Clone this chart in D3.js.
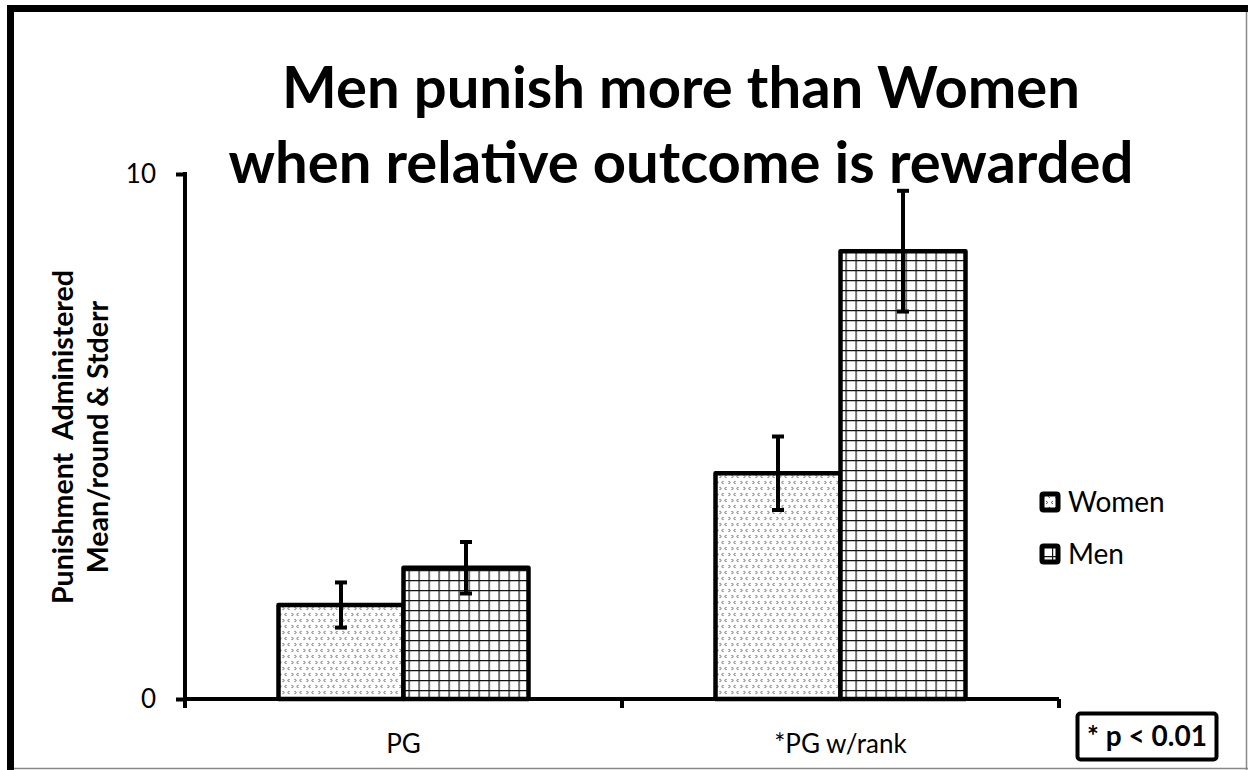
<!DOCTYPE html>
<html>
<head>
<meta charset="utf-8">
<script src="https://cdn.jsdelivr.net/npm/d3@7"></script>
<style>
  body { margin: 0; background: #fff; }
  svg { display: block; font-family: Lato, "Open Sans", sans-serif; }
</style>
</head>
<body>
<svg id="chart" width="1248" height="770"></svg>
<script>
// data
var categories = ['PG', '*PG w/rank'];
var seriesNames = ['Women', 'Men'];
var womenMean = [1.79, 4.30];
var womenErr = [0.43, 0.70];
var menMean = [2.50, 8.53];
var menErr = [0.49, 1.15];
var yTicks = [0, 10];
var titleLines = ['Men punish more than Women', 'when relative outcome is rewarded'];
var yLabelLines = ['Punishment  Administered', 'Mean/round & Stderr'];

var svg = d3.select('#chart');

// patterns
var defs = svg.append('defs');
var dots = defs.append('pattern')
    .attr('id', 'pat-women')
    .attr('patternUnits', 'userSpaceOnUse')
    .attr('width', 12).attr('height', 12);
dots.append('rect').attr('width', 12).attr('height', 12).attr('fill', '#fff');
// little chevrons like the excel dotted fill
[[1, 1, 1], [8, 1, -1], [4, 7, 1], [11, 7, -1]].forEach(function(p) {
    dots.append('path')
        .attr('d', 'M' + p[0] + ',' + p[1] + ' l' + (1.8 * p[2]) + ',1.5 l' + (-1.8 * p[2]) + ',1.5')
        .attr('fill', 'none')
        .attr('stroke', '#555')
        .attr('stroke-width', 1);
});

var grid = defs.append('pattern')
    .attr('id', 'pat-men')
    .attr('patternUnits', 'userSpaceOnUse')
    .attr('width', 10).attr('height', 10);
grid.append('rect').attr('width', 10).attr('height', 10).attr('fill', '#fff');
grid.append('path')
    .attr('d', 'M0,0.5 H10 M0.5,0 V10')
    .attr('stroke', '#111')
    .attr('stroke-width', 1.4);

var fills = ['url(#pat-women)', 'url(#pat-men)'];

// frame
svg.append('rect').attr('x', 7).attr('y', 5).attr('width', 7).attr('height', 765).attr('fill', '#000');
svg.append('rect').attr('x', 7).attr('y', 5).attr('width', 1241).attr('height', 7).attr('fill', '#000');
svg.append('line').attr('x1', 1246.5).attr('x2', 1246.5).attr('y1', 12).attr('y2', 770)
    .attr('stroke', '#888').attr('stroke-width', 1.5);
svg.append('line').attr('x1', 14).attr('x2', 1248).attr('y1', 768.5).attr('y2', 768.5)
    .attr('stroke', '#888').attr('stroke-width', 1.5);

// scales
var x0 = d3.scaleBand().domain(categories).range([185, 1059]).paddingInner(0).paddingOuter(0);
var x1 = d3.scaleBand().domain(seriesNames).range([0, 250]);
var groupOffset = (x0.bandwidth() - 250) / 2;
var y = d3.scaleLinear().domain([0, 10]).range([699, 174]);

var rows = categories.map(function(c, i) {
    return {
        cat: c,
        vals: [
            {name: 'Women', mean: womenMean[i], err: womenErr[i], fill: fills[0]},
            {name: 'Men', mean: menMean[i], err: menErr[i], fill: fills[1]}
        ]
    };
});

// bars
var groups = svg.append('g').selectAll('g')
    .data(rows)
    .enter().append('g')
    .attr('transform', function(d) { return 'translate(' + (x0(d.cat) + groupOffset) + ',0)'; });

groups.selectAll('rect')
    .data(function(d) { return d.vals; })
    .enter().append('rect')
    .attr('x', function(d) { return x1(d.name); })
    .attr('y', function(d) { return y(d.mean); })
    .attr('width', x1.bandwidth())
    .attr('height', function(d) { return y(0) - y(d.mean); })
    .attr('fill', function(d) { return d.fill; })
    .attr('stroke', '#000')
    .attr('stroke-width', 4.5)
    .attr('stroke-linejoin', 'round');

// error bars
var eb = groups.selectAll('g.err')
    .data(function(d) { return d.vals; })
    .enter().append('g')
    .attr('class', 'err')
    .attr('stroke', '#000')
    .attr('stroke-width', 4);
eb.append('line')
    .attr('x1', function(d) { return x1(d.name) + x1.bandwidth() / 2; })
    .attr('x2', function(d) { return x1(d.name) + x1.bandwidth() / 2; })
    .attr('y1', function(d) { return y(d.mean + d.err); })
    .attr('y2', function(d) { return y(d.mean - d.err); });
eb.selectAll('line.cap')
    .data(function(d) { return [d.mean + d.err, d.mean - d.err].map(function(v) { return {v: v, name: d.name}; }); })
    .enter().append('line')
    .attr('class', 'cap')
    .attr('x1', function(d) { return x1(d.name) + x1.bandwidth() / 2 - 6; })
    .attr('x2', function(d) { return x1(d.name) + x1.bandwidth() / 2 + 6; })
    .attr('y1', function(d) { return y(d.v); })
    .attr('y2', function(d) { return y(d.v); });

// y axis
var yAxis = svg.append('g')
    .attr('transform', 'translate(185,0)')
    .call(d3.axisLeft(y).tickValues(yTicks).tickSize(9).tickPadding(20).tickFormat(d3.format('d')));
yAxis.select('.domain').remove();
yAxis.selectAll('line').attr('stroke', '#000').attr('stroke-width', 4);
yAxis.append('line').attr('x1', 0).attr('x2', 0).attr('y1', y(10) - 2).attr('y2', y(0) + 2)
    .attr('stroke', '#000').attr('stroke-width', 4);
yAxis.selectAll('text').attr('font-size', 26).attr('fill', '#000')
    .style('font-family', 'Lato, "Open Sans", sans-serif');

// x axis
var xAxis = svg.append('g')
    .attr('transform', 'translate(0,' + y(0) + ')');
xAxis.append('line').attr('x1', 185).attr('x2', 1059).attr('y1', 0).attr('y2', 0)
    .attr('stroke', '#000').attr('stroke-width', 4);
var xTickPos = [185].concat(categories.map(function(c) { return x0(c) + x0.bandwidth(); }));
xAxis.selectAll('line.tick')
    .data(xTickPos)
    .enter().append('line')
    .attr('class', 'tick')
    .attr('x1', function(d) { return d; }).attr('x2', function(d) { return d; })
    .attr('y1', 0).attr('y2', 9)
    .attr('stroke', '#000').attr('stroke-width', 4);
xAxis.selectAll('text')
    .data(categories)
    .enter().append('text')
    .attr('x', function(d) { return x0(d) + x0.bandwidth() / 2; })
    .attr('y', 54)
    .attr('text-anchor', 'middle')
    .attr('font-size', 26)
    .text(function(d) { return d; });

// title
svg.append('g').selectAll('text')
    .data(titleLines)
    .enter().append('text')
    .attr('x', 681)
    .attr('y', function(d, i) { return 108 + i * 75; })
    .attr('text-anchor', 'middle')
    .attr('font-size', 58)
    .attr('font-weight', 'bold')
    .text(function(d) { return d; });

// y label
svg.append('g')
    .attr('transform', 'translate(0,437) rotate(-90)')
    .selectAll('text')
    .data(yLabelLines)
    .enter().append('text')
    .attr('x', 0)
    .attr('y', function(d, i) { return 73 + i * 35; })
    .attr('text-anchor', 'middle')
    .attr('font-size', 28.5)
    .attr('font-weight', 'bold')
    .style('white-space', 'pre')
    .text(function(d) { return d; });

// legend
var legend = svg.append('g').selectAll('g')
    .data(seriesNames)
    .enter().append('g')
    .attr('transform', function(d, i) { return 'translate(1042,' + (494 + i * 52) + ')'; });
legend.append('rect')
    .attr('width', 16).attr('height', 16)
    .attr('fill', function(d, i) { return fills[i]; })
    .attr('stroke', '#000').attr('stroke-width', 5)
    .attr('rx', 1.5);
legend.append('text')
    .attr('x', 26).attr('y', 18)
    .attr('font-size', 28)
    .text(function(d) { return d; });

// significance box
svg.append('rect')
    .attr('x', 1077.5).attr('y', 713.5).attr('width', 139).attr('height', 46)
    .attr('fill', '#fff').attr('stroke', '#000').attr('stroke-width', 4).attr('rx', 3);
svg.append('text')
    .attr('x', 1147).attr('y', 746)
    .attr('text-anchor', 'middle')
    .attr('font-size', 28)
    .attr('font-weight', 'bold')
    .text('* p < 0.01');
</script>
</body>
</html>
